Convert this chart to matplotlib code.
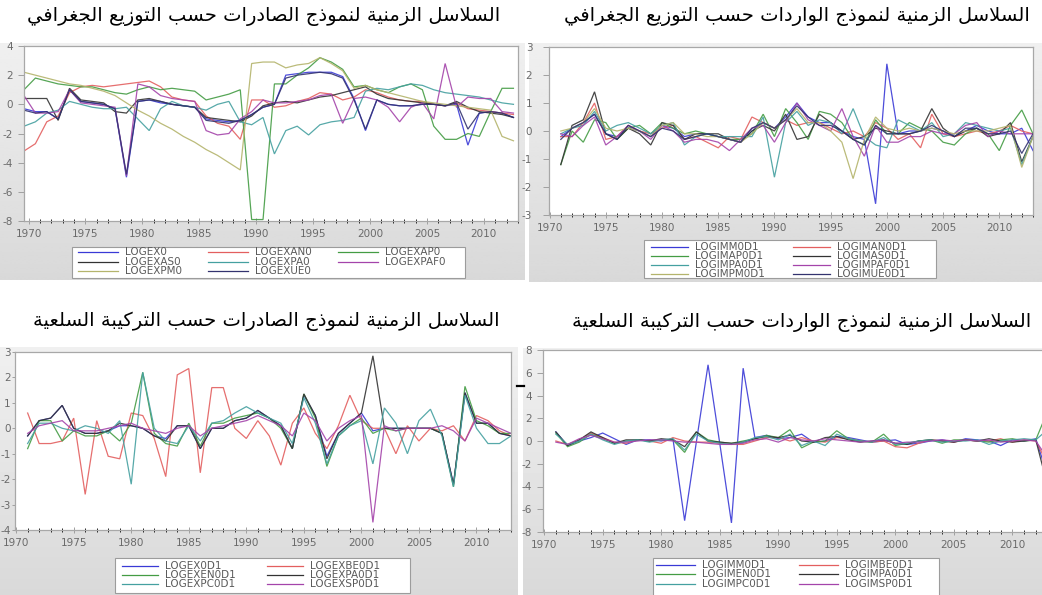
import matplotlib

matplotlib.use("Agg")
import matplotlib.pyplot as plt
import numpy as np
from matplotlib.lines import Line2D
from matplotlib.patches import Rectangle

W, H = 1042, 595

plt.rcParams["font.family"] = ["DejaVu Sans"]
plt.rcParams["axes.unicode_minus"] = False

# ---------------------------------------------------------------- data
YEARS_LEVEL = np.arange(1970, 2014)
YEARS_DIFF = np.arange(1971, 2014)

# exports, geographic distribution (levels, 1970-2013)
LOGEX0 = [-0.3, -0.5, -0.5, -1.0, 1.0, 0.2, 0.1, 0.0, -0.3, -5.0,
          0.2, 0.3, 0.1, 0.0, -0.1, -0.2, -1.0, -1.1, -1.2, -1.1,
          -0.7, -0.2, 0.0, 2.0, 2.1, 2.2, 2.2, 2.2, 1.9, 0.4,
          -1.8, 0.3, 0.0, -0.1, -0.1, 0.0, 0.0, -0.1, 0.0, -2.8,
          -0.6, -0.5, -0.6, -0.9]
LOGEXAN0 = [-3.2, -2.7, -1.2, -0.8, 0.8, 1.2, 1.3, 1.2, 1.3, 1.4,
            1.5, 1.6, 1.2, 0.5, 0.3, 0.2, -0.8, -1.3, -1.5, -2.4,
            0.3, 0.3, -0.2, -0.1, 0.2, 0.4, 0.8, 0.7, 0.3, 0.5,
            1.0, 0.8, 0.5, 0.3, 0.2, 0.2, 0.0, -0.1, 0.1, -0.3,
            -0.4, -0.5, -0.6, -0.7]
LOGEXAP0 = [1.0, 1.8, 1.6, 1.4, 1.3, 1.2, 1.2, 1.0, 0.8, 0.7,
            1.0, 1.2, 1.0, 1.1, 1.0, 0.9, 0.3, 0.5, 0.7, 1.0,
            -7.9, -7.9, 1.4, 1.4, 2.0, 2.5, 3.2, 2.9, 2.4, 1.2,
            1.3, 1.0, 0.8, 1.2, 1.4, 1.0, -1.5, -2.4, -2.4, -2.0,
            -2.2, -0.5, 1.1, 1.1]
LOGEXAS0 = [0.4, 0.4, 0.4, -1.1, 1.1, 0.3, 0.2, 0.1, -0.5, -0.6,
            0.3, 0.4, 0.2, 0.0, -0.1, -0.2, -0.9, -1.0, -1.1, -1.2,
            -0.8, -0.1, 0.1, 0.2, 0.1, 0.3, 0.5, 0.6, 0.8, 1.0,
            1.2, 0.7, 0.4, 0.3, 0.2, 0.1, 0.0, -0.1, 0.2, -0.2,
            -0.5, -0.6, -0.7, -0.9]
LOGEXPA0 = [-1.5, -1.2, -0.6, -0.4, 0.2, 0.0, -0.2, -0.3, -0.3, -0.2,
            -1.0, -1.8, -0.3, 0.2, -0.1, -0.2, -0.4, 0.0, 0.2, -1.2,
            -1.4, -0.9, -3.4, -1.8, -1.5, -2.1, -1.4, -1.2, -1.1, -0.9,
            0.9, 1.1, 1.0, 1.2, 1.4, 1.3, 1.0, 0.8, 0.7, 0.6,
            0.5, 0.3, 0.1, 0.0]
LOGEXPAF0 = [0.6, -0.6, -0.6, -0.5, 1.0, 0.1, 0.0, -0.1, -0.2, -4.9,
             1.4, 1.2, 0.6, 0.4, 0.3, 0.2, -1.8, -2.1, -2.0, -1.0,
             -0.5, 0.3, 0.1, 0.1, 0.2, 0.3, 0.6, 0.7, -1.3, 0.4,
             0.5, 0.3, -0.2, -1.2, -0.2, 0.1, -1.0, 2.8, -0.2, 0.5,
             0.4, 0.4, -0.5, -0.6]
LOGEXPM0 = [2.2, 2.0, 1.8, 1.6, 1.4, 1.3, 1.1, 0.9, 0.6, 0.1,
            -0.4, -0.8, -1.3, -1.7, -2.2, -2.6, -3.1, -3.5, -4.0, -4.5,
            2.8, 2.9, 2.9, 2.5, 2.7, 2.8, 3.2, 2.8, 2.3, 1.1,
            1.3, 1.0, 0.8, 0.6, 0.4, 0.2, 0.1, 0.0, -0.1, -0.2,
            -0.3, -0.4, -2.2, -2.5]
LOGEXUE0 = [-0.4, -0.6, -0.5, -1.0, 1.0, 0.2, 0.1, 0.0, -0.3, -4.8,
            0.2, 0.3, 0.2, 0.0, -0.1, -0.2, -1.1, -1.2, -1.3, -1.1,
            -0.7, -0.2, 0.0, 1.8, 2.0, 2.1, 2.2, 2.1, 1.8, 0.3,
            -1.7, 0.3, 0.0, -0.1, -0.1, 0.0, 0.0, -0.1, 0.1, -1.7,
            -0.6, -0.5, -0.6, -0.9]

# imports, geographic distribution (first differences, 1971-2013)
LOGIMM0D1 = [-0.2, 0.1, 0.3, 0.6, -0.1, -0.2, 0.1, 0.0, -0.2, 0.2,
             0.1, -0.2, -0.1, -0.1, -0.2, -0.3, -0.4, 0.0, 0.3, 0.1,
             0.5, 1.0, 0.5, 0.3, 0.3, 0.0, -0.2, -0.3, -2.6, 2.4,
             -0.1, 0.0, 0.0, 0.1, 0.0, -0.2, 0.0, 0.2, 0.0, -0.1,
             -0.1, 0.1, -0.7]
LOGIMAN0D1 = [-0.2, -0.2, 0.3, 1.0, -0.3, -0.2, 0.2, 0.0, -0.1, 0.1,
              0.2, -0.3, -0.2, -0.4, -0.6, -0.2, -0.3, 0.5, 0.3, 0.1,
              0.4, 0.2, 0.3, 0.3, 0.1, -0.1, 0.0, -0.2, 0.3, 0.1,
              -0.3, -0.1, -0.6, 0.6, -0.1, -0.2, -0.1, 0.0, -0.1, 0.0,
              0.2, 0.0, -0.1]
LOGIMAP0D1 = [-1.2, 0.0, -0.4, 0.4, 0.3, -0.3, 0.1, 0.2, -0.1, 0.3,
              0.1, -0.1, 0.0, -0.1, -0.2, -0.3, -0.3, -0.1, 0.6, -0.2,
              0.8, 0.3, -0.3, 0.7, 0.6, 0.3, -0.3, -0.5, 0.4, -0.1,
              -0.1, 0.3, 0.1, 0.0, -0.4, -0.5, -0.1, 0.1, -0.1, -0.7,
              0.2, 0.75, -0.1]
LOGIMAS0D1 = [-1.2, 0.2, 0.4, 1.4, -0.1, -0.3, 0.1, -0.1, -0.5, 0.3,
              0.2, -0.3, -0.1, -0.1, -0.1, -0.3, -0.4, 0.0, 0.2, 0.0,
              0.6, -0.3, -0.2, 0.6, 0.3, 0.0, -0.3, -0.2, 0.1, 0.0,
              -0.1, -0.1, 0.0, 0.8, 0.1, -0.2, 0.0, 0.1, -0.2, -0.1,
              0.3, -1.1, -0.2]
LOGIMPA0D1 = [-0.1, 0.1, 0.2, 0.7, 0.0, 0.2, 0.3, 0.1, -0.1, 0.2,
              0.3, -0.5, -0.2, -0.1, -0.2, -0.2, -0.2, -0.2, 0.5, -1.65,
              0.3, 0.7, 0.2, 0.4, 0.3, -0.1, 0.8, -0.2, -0.5, -0.6,
              0.4, 0.2, 0.0, 0.3, -0.2, -0.1, 0.3, 0.2, 0.1, 0.0,
              0.1, -1.2, -0.2]
LOGIMPAF0D1 = [-0.1, -0.2, 0.2, 0.5, -0.5, -0.2, 0.2, 0.0, -0.3, 0.2,
               0.0, -0.4, -0.3, -0.3, -0.4, -0.7, -0.3, 0.1, 0.2, -0.4,
               0.3, 1.0, 0.4, 0.2, 0.0, 0.8, -0.2, -0.9, 0.2, -0.4,
               -0.4, -0.2, -0.2, 0.0, -0.1, -0.1, 0.2, 0.3, -0.2, 0.0,
               -0.1, -0.1, -0.1]
LOGIMPM0D1 = [0.0, 0.1, 0.3, 0.8, 0.1, 0.0, 0.1, 0.0, -0.2, 0.2,
              0.3, -0.1, -0.1, -0.2, -0.2, -0.3, -0.4, -0.1, 0.3, 0.1,
              0.4, 0.8, 0.3, 0.3, 0.0, -0.4, -1.7, -0.3, 0.5, 0.1,
              0.0, 0.1, 0.0, 0.1, 0.0, -0.1, 0.0, 0.0, 0.0, 0.1,
              0.2, -1.3, -0.2]
LOGIMUE0D1 = [-0.3, 0.1, 0.3, 0.6, -0.1, -0.3, 0.2, 0.0, -0.2, 0.1,
              0.0, -0.3, -0.2, -0.1, -0.2, -0.3, -0.4, 0.1, 0.3, 0.1,
              0.4, 0.9, 0.5, 0.2, 0.2, 0.0, -0.3, -0.5, 0.2, -0.1,
              -0.1, -0.1, 0.0, 0.2, 0.0, -0.2, 0.1, 0.1, -0.1, -0.1,
              0.0, -0.8, -0.1]

# exports, commodity structure (first differences, 1971-2013)
LOGEX0D1 = [-0.3, 0.3, 0.4, 0.9, 0.0, -0.2, -0.2, -0.1, 0.1, 0.1,
            0.0, -0.3, -0.4, 0.1, 0.1, -0.8, 0.0, 0.0, 0.3, 0.4,
            0.7, 0.4, 0.1, -0.8, 1.3, 0.5, -1.1, -0.2, 0.2, 0.6,
            -0.1, 0.0, 0.0, 0.0, 0.0, 0.0, -0.2, -2.2, 1.4, 0.2,
            0.2, -0.2, -0.3]
LOGEXBE0D1 = [0.6, -0.6, -0.6, -0.5, 0.4, -2.6, 0.3, -1.1, -1.2, 0.6,
              0.5, -0.4, -1.9, 2.1, 2.35, -1.75, 1.6, 1.6, 0.0, -0.4,
              0.3, -0.3, -1.45, 0.2, 0.8, -0.2, -0.8, 0.1, 1.3, 0.3,
              0.0, 0.0, -1.0, 0.1, -0.5, 0.0, -0.1, 0.1, -0.5, 0.5,
              0.3, -0.1, -0.3]
LOGEXEN0D1 = [-0.8, 0.3, 0.3, -0.5, -0.1, -0.3, -0.3, -0.1, -0.5, 0.2,
              2.2, -0.2, -0.6, -0.7, 0.2, -0.7, 0.2, 0.2, 0.4, 0.5,
              0.6, 0.4, 0.0, -0.8, 1.35, 0.4, -1.5, -0.3, 0.1, 0.4,
              -0.2, 0.0, -0.1, 0.0, 0.0, 0.0, -0.2, -2.3, 1.65, 0.3,
              0.1, -0.2, -0.2]
LOGEXPA0D1 = [-0.3, 0.3, 0.4, 0.9, 0.0, -0.2, -0.2, -0.1, 0.2, 0.1,
              0.0, -0.3, -0.5, 0.1, 0.1, -0.8, 0.0, 0.0, 0.3, 0.4,
              0.7, 0.4, 0.1, -0.8, 1.35, 0.5, -1.2, -0.2, 0.2, 0.6,
              2.85, 0.0, 0.0, 0.0, 0.0, 0.0, -0.2, -2.2, 1.4, 0.2,
              0.2, -0.2, -0.3]
LOGEXPC0D1 = [-0.6, 0.2, 0.2, 0.0, -0.1, 0.1, 0.0, -0.2, 0.3, -2.2,
              2.2, 0.0, -0.5, -0.6, 0.1, -0.5, 0.2, 0.3, 0.6, 0.85,
              0.6, 0.4, 0.2, -0.6, 1.2, 0.2, -1.4, -0.3, 0.1, 0.3,
              -1.4, 0.8, 0.2, -1.0, 0.3, 0.75, -0.3, -2.3, 1.3, 0.0,
              -0.6, -0.6, -0.3]
LOGEXSP0D1 = [-0.2, 0.1, 0.2, 0.3, -0.1, -0.1, -0.1, 0.0, 0.1, 0.2,
              0.0, -0.1, -0.2, 0.0, 0.1, -0.3, 0.0, 0.1, 0.2, 0.3,
              0.5, 0.3, 0.1, -0.3, 0.6, 0.3, -0.5, 0.0, 0.3, 0.5,
              -3.7, 0.1, -0.1, 0.0, 0.0, 0.0, 0.1, -0.1, -0.5, 0.4,
              0.2, 0.0, -0.2]

# imports, commodity structure (first differences, 1971-2013)
LOGIMM0D1_C = [0.8, -0.4, 0.0, 0.3, 0.7, 0.2, -0.3, 0.1, 0.1, 0.0,
               0.2, -7.0, -0.1, 6.7, -0.2, -7.2, 6.4, 0.3, 0.5, 0.2,
               0.3, 0.6, -0.1, 0.0, 0.4, 0.3, 0.1, -0.1, 0.0, 0.1,
               -0.3, -0.2, 0.0, 0.1, -0.1, 0.2, 0.1, 0.0, -0.4, 0.1,
               0.0, 0.2, -3.0]
LOGIMBE0D1 = [0.0, -0.3, 0.1, 0.7, 0.3, -0.1, -0.2, 0.1, 0.0, -0.2,
              0.3, 0.0, -0.1, -0.1, -0.2, -0.3, -0.3, 0.0, 0.3, 0.3,
              0.0, 0.3, 0.0, -0.1, 0.3, 0.2, 0.0, -0.1, 0.0, -0.5,
              -0.6, -0.2, 0.1, 0.0, -0.1, 0.1, 0.0, 0.0, 0.2, -0.1,
              0.1, 0.0, -2.0]
LOGIMEN0D1 = [0.7, -0.5, -0.1, 0.6, 0.2, -0.2, 0.0, 0.1, 0.0, 0.1,
              0.1, -1.0, 0.8, 0.1, -0.1, -0.2, 0.0, 0.2, 0.5, 0.3,
              1.0, -0.6, -0.1, 0.0, 0.9, 0.2, 0.0, -0.1, 0.6, -0.4,
              -0.2, 0.0, 0.1, -0.2, 0.1, 0.1, 0.0, -0.1, 0.1, 0.2,
              0.0, 0.1, 2.6]
LOGIMPA0D1_C = [0.8, -0.4, 0.1, 0.8, 0.3, -0.2, 0.1, 0.1, 0.0, 0.2,
                0.1, -0.5, 0.8, 0.0, -0.1, -0.2, -0.1, 0.2, 0.4, 0.3,
                0.5, 0.0, -0.1, 0.3, 0.4, 0.1, -0.1, 0.0, 0.1, -0.2,
                -0.3, 0.0, 0.1, 0.0, -0.1, 0.1, 0.0, 0.2, 0.0, -0.1,
                0.0, 0.1, -3.9]
LOGIMPC0D1 = [0.6, -0.3, 0.0, 0.6, 0.1, -0.3, 0.0, 0.1, -0.1, 0.1,
              0.2, -0.8, 0.6, 0.0, -0.2, -0.3, -0.1, 0.3, 0.4, 0.1,
              0.6, -0.4, 0.0, -0.4, 0.6, 0.2, 0.0, -0.1, 0.3, -0.3,
              -0.2, 0.0, 0.1, -0.1, 0.0, 0.0, 0.1, -0.3, 0.0, 0.1,
              0.2, 0.1, 1.0]
LOGIMSP0D1 = [-0.1, -0.3, 0.2, 0.5, 0.2, -0.1, -0.1, 0.0, 0.1, 0.1,
              0.0, -0.1, -0.1, -0.2, -0.3, -0.3, -0.2, 0.1, 0.2, -0.1,
              0.3, 0.1, 0.0, 0.2, 0.1, 0.0, -0.1, 0.0, 0.1, -0.2,
              -0.1, -0.1, 0.0, 0.1, 0.0, 0.1, 0.0, 0.1, -0.1, 0.0,
              0.1, 0.0, -1.5]

TITLE_EX_GEO = "السلاسل الزمنية لنموذج الصادرات حسب التوزيع الجغرافي"
TITLE_IM_GEO = "السلاسل الزمنية لنموذج الواردات حسب التوزيع الجغرافي"
TITLE_EX_COM = "السلاسل الزمنية لنموذج الصادرات حسب التركيبة السلعية"
TITLE_IM_COM = "السلاسل الزمنية لنموذج الواردات حسب التركيبة السلعية"

# EViews default line colours (as they look in the screenshot)
COLORS = ["#3a3ad6", "#e35f5f", "#449c44", "#333333",
          "#45a0a0", "#a444aa", "#b4b46c", "#33336f"]

# ------------------------------------------------------ arabic shaping
# matplotlib has no text shaping, so convert to presentation forms
# (isolated, final, initial, medial) and lay out right to left.
FORMS = {
    "ا": (0xFE8D, 0xFE8E, None, None),
    "ب": (0xFE8F, 0xFE90, 0xFE91, 0xFE92),
    "ة": (0xFE93, 0xFE94, None, None),
    "ت": (0xFE95, 0xFE96, 0xFE97, 0xFE98),
    "ج": (0xFE9D, 0xFE9E, 0xFE9F, 0xFEA0),
    "ح": (0xFEA1, 0xFEA2, 0xFEA3, 0xFEA4),
    "د": (0xFEA9, 0xFEAA, None, None),
    "ذ": (0xFEAB, 0xFEAC, None, None),
    "ر": (0xFEAD, 0xFEAE, None, None),
    "ز": (0xFEAF, 0xFEB0, None, None),
    "س": (0xFEB1, 0xFEB2, 0xFEB3, 0xFEB4),
    "ص": (0xFEB9, 0xFEBA, 0xFEBB, 0xFEBC),
    "ع": (0xFEC9, 0xFECA, 0xFECB, 0xFECC),
    "غ": (0xFECD, 0xFECE, 0xFECF, 0xFED0),
    "ف": (0xFED1, 0xFED2, 0xFED3, 0xFED4),
    "ك": (0xFED9, 0xFEDA, 0xFEDB, 0xFEDC),
    "ل": (0xFEDD, 0xFEDE, 0xFEDF, 0xFEE0),
    "م": (0xFEE1, 0xFEE2, 0xFEE3, 0xFEE4),
    "ن": (0xFEE5, 0xFEE6, 0xFEE7, 0xFEE8),
    "و": (0xFEED, 0xFEEE, None, None),
    "ي": (0xFEF1, 0xFEF2, 0xFEF3, 0xFEF4),
}


def joins_left(ch):
    return ch in FORMS and FORMS[ch][2] is not None


def shape_arabic(text):
    out = []
    i = 0
    while i < len(text):
        ch = text[i]
        if ch not in FORMS:
            out.append(ch)
            i += 1
            continue
        prev = i > 0 and joins_left(text[i - 1])
        if ch == "ل" and i + 1 < len(text) and text[i + 1] == "ا":
            out.append(chr(0xFEFC if prev else 0xFEFB))
            i += 2
            continue
        nxt = joins_left(ch) and i + 1 < len(text) and text[i + 1] in FORMS
        iso, fin, ini, med = FORMS[ch]
        if prev and nxt:
            out.append(chr(med))
        elif prev:
            out.append(chr(fin))
        elif nxt:
            out.append(chr(ini))
        else:
            out.append(chr(iso))
        i += 1
    return "".join(reversed(out))


# ------------------------------------------------------------- panels
PANELS = [
    dict(title=TITLE_EX_GEO, title_xy=(500, 17),
         gray=(0, 43, 525, 280), frame=(24, 46, 518, 221),
         years=YEARS_LEVEL, xlim=(1970, 2013), tick_shift=0.4,
         ylim=(-8, 4), ystep=2, ylen=4, ypad=4,
         series=[("LOGEX0", LOGEX0), ("LOGEXAN0", LOGEXAN0),
                 ("LOGEXAP0", LOGEXAP0), ("LOGEXAS0", LOGEXAS0),
                 ("LOGEXPA0", LOGEXPA0), ("LOGEXPAF0", LOGEXPAF0),
                 ("LOGEXPM0", LOGEXPM0), ("LOGEXUE0", LOGEXUE0)],
         legend=dict(box=(72, 247, 465, 278), ncol=3, col_x=(78, 208, 338),
                     row_y=(252, 262, 271), line_len=40)),
    dict(title=TITLE_IM_GEO, title_xy=(1030, 17),
         gray=(529, 43, 1042, 282), frame=(549, 47, 1033, 215),
         years=YEARS_DIFF, xlim=(1969.95, 2012.8), tick_shift=0.0,
         ylim=(-3, 3), ystep=1, ylen=4, ypad=8,
         series=[("LOGIMM0D1", LOGIMM0D1), ("LOGIMAN0D1", LOGIMAN0D1),
                 ("LOGIMAP0D1", LOGIMAP0D1), ("LOGIMAS0D1", LOGIMAS0D1),
                 ("LOGIMPA0D1", LOGIMPA0D1), ("LOGIMPAF0D1", LOGIMPAF0D1),
                 ("LOGIMPM0D1", LOGIMPM0D1), ("LOGIMUE0D1", LOGIMUE0D1)],
         legend=dict(box=(644, 240, 936, 278), ncol=2, col_x=(651, 793),
                     row_y=(247, 256, 265, 274), line_len=37)),
    dict(title=TITLE_EX_COM, title_xy=(500, 321),
         gray=(0, 347, 518, 595), frame=(15, 352, 511, 530),
         years=YEARS_DIFF, xlim=(1969.9, 2013.0), tick_shift=0.0,
         ylim=(-4, 3), ystep=1, ylen=2, ypad=1,
         series=[("LOGEX0D1", LOGEX0D1), ("LOGEXBE0D1", LOGEXBE0D1),
                 ("LOGEXEN0D1", LOGEXEN0D1), ("LOGEXPA0D1", LOGEXPA0D1),
                 ("LOGEXPC0D1", LOGEXPC0D1), ("LOGEXSP0D1", LOGEXSP0D1)],
         legend=dict(box=(115, 558, 410, 593), ncol=2, col_x=(122, 267),
                     row_y=(566, 575, 584), line_len=36)),
    dict(title=TITLE_IM_COM, title_xy=(1031, 322),
         gray=(523, 348, 1042, 595), frame=(543, 350, 1051, 532),
         years=YEARS_DIFF, xlim=(1969.9, 2013.3), tick_shift=0.0,
         ylim=(-8, 8), ystep=2, ylen=4, ypad=4,
         series=[("LOGIMM0D1", LOGIMM0D1_C), ("LOGIMBE0D1", LOGIMBE0D1),
                 ("LOGIMEN0D1", LOGIMEN0D1), ("LOGIMPA0D1", LOGIMPA0D1_C),
                 ("LOGIMPC0D1", LOGIMPC0D1), ("LOGIMSP0D1", LOGIMSP0D1)],
         legend=dict(box=(653, 558, 939, 600), ncol=2, col_x=(656, 799),
                     row_y=(565, 574, 584), line_len=39)),
]


def px_axes(fig, left, top, right, bottom, **kw):
    return fig.add_axes([left / W, 1 - bottom / H,
                         (right - left) / W, (bottom - top) / H], **kw)


def draw_gray(bg, rect):
    x0, y0, x1, y1 = rect
    shade = np.linspace(0.94, 0.85, 80).reshape(-1, 1)
    bg.imshow(shade, cmap="gray", vmin=0, vmax=1, aspect="auto",
              extent=(x0, x1, y1, y0), interpolation="bilinear", zorder=0)


def draw_legend(bg, spec, names, colors):
    x0, y0, x1, y1 = spec["box"]
    bg.add_patch(Rectangle((x0, y0), x1 - x0, y1 - y0, facecolor="white",
                           edgecolor="#9c9c9c", lw=0.8, zorder=2))
    for i, (name, color) in enumerate(zip(names, colors)):
        row, col = divmod(i, spec["ncol"])
        x, y = spec["col_x"][col], spec["row_y"][row]
        bg.add_line(Line2D([x, x + spec["line_len"]], [y, y], color=color,
                           lw=0.9, zorder=3))
        bg.text(x + spec["line_len"] + 7, y, name, fontsize=7.5,
                color="#5a5a5a", ha="left", va="center", zorder=3)


def draw_panel(fig, bg, p):
    draw_gray(bg, p["gray"])
    bg.text(p["title_xy"][0], p["title_xy"][1], shape_arabic(p["title"]),
            fontsize=14, color="black", ha="right", va="center", zorder=3)

    ax = px_axes(fig, *p["frame"], zorder=1)
    ax.set_facecolor("white")
    names = [s[0] for s in p["series"]]
    for (name, values), color in zip(p["series"], COLORS):
        ax.plot(p["years"], values, color=color, lw=0.9, alpha=0.9,
                solid_joinstyle="miter")

    ax.set_xlim(*p["xlim"])
    ax.set_ylim(*p["ylim"])
    ax.set_yticks(np.arange(p["ylim"][0], p["ylim"][1] + 0.1, p["ystep"]))
    ax.set_xticks(np.arange(1970, 2011, 5) + p["tick_shift"])
    ax.set_xticklabels([str(y) for y in range(1970, 2011, 5)])
    ax.set_xticks(np.arange(1970, 2014) + p["tick_shift"], minor=True)
    for spine in ax.spines.values():
        spine.set_color("#a8a8a8")
        spine.set_linewidth(0.9)
    ax.tick_params(axis="both", colors="#a0a0a0", labelcolor="#6a6a6a",
                   labelsize=7.5, width=0.7)
    ax.tick_params(axis="x", which="major", direction="inout", length=5, pad=3)
    ax.tick_params(axis="x", which="minor", direction="inout", length=3)
    ax.tick_params(axis="y", direction="out", length=p["ylen"], pad=p["ypad"])
    ax.tick_params(top=False, right=False)

    draw_legend(bg, p["legend"], names, COLORS)


fig = plt.figure(figsize=(W / 100, H / 100), dpi=100)
fig.patch.set_facecolor("white")
bg = fig.add_axes([0, 0, 1, 1], zorder=0)
bg.set_autoscale_on(False)
bg.set_xlim(0, W)
bg.set_ylim(H, 0)
bg.set_axis_off()

for panel in PANELS:
    draw_panel(fig, bg, panel)

# stray dash between the two lower screenshots
bg.add_line(Line2D([517, 524], [386, 386], color="black", lw=1.6, zorder=3))

fig.savefig("out.png", dpi=100)
